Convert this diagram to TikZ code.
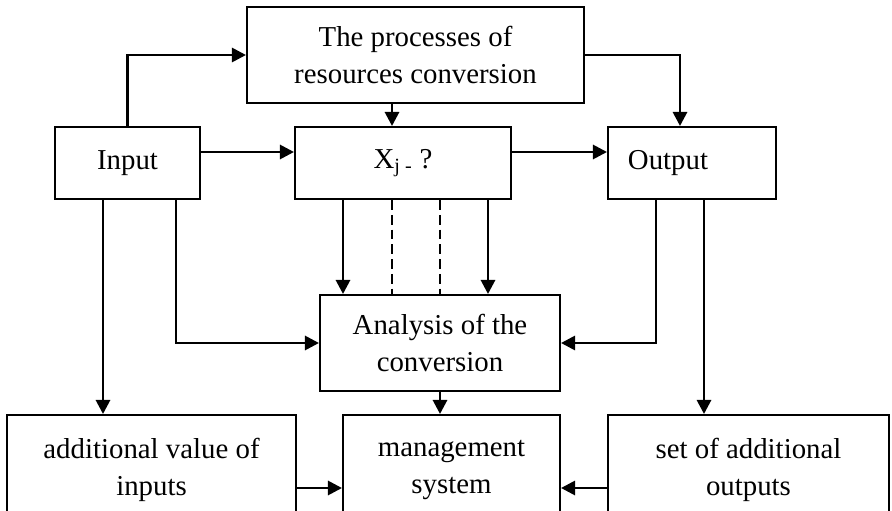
\documentclass[tikz,border=0pt]{standalone}
\usepackage{fontspec}
\setmainfont{Liberation Serif}
\usetikzlibrary{arrows.meta}

\tikzset{
  box/.style={draw, line width=1.4pt, inner sep=0pt, align=center,
    font=\fontsize{20.5}{26}\selectfont},
  arr/.style={line width=2pt, -{Triangle[length=10pt,width=10pt]}},
  dline/.style={line width=1.4pt, dash pattern=on 7pt off 3.5pt},
}

\begin{document}
\begin{tikzpicture}[x=0.025cm, y=-0.025cm]
    \useasboundingbox (0,0) rectangle (892,511);

    % Top row
    \node[box, minimum width=8.425cm, minimum height=2.4cm] (proc) at (415.5,55)
      {The processes of\\resources conversion};
    % Middle row
    \node[box, minimum width=3.625cm, minimum height=1.8cm] (input) at (127.5,163) {Input};
    \node[box, minimum width=5.4cm, minimum height=1.8cm] (xj) at (403,163) {X\textsubscript{j -} ?};
    \node[box, minimum width=4.2cm, minimum height=1.8cm, text width=3.2cm, inner xsep=0.5cm,
      align=left] (output) at (692,163) {Output};
    \node[box, minimum width=6cm, minimum height=2.4cm] (analysis) at (440,343)
      {Analysis of the\\conversion};
    % Bottom row (cut off at the lower edge)
    \node[box, minimum width=7.225cm, minimum height=2.75cm] (addval) at (151.5,470)
      {additional value of\\inputs};
    \node[box, minimum width=5.425cm, minimum height=2.75cm] (mgmt) at (451.5,470)
      {management\\system};
    \node[box, minimum width=7.025cm, minimum height=2.75cm] (addout) at (748.5,470)
      {set of additional\\outputs};

    % Connectors
    \draw[arr] (input.north) |- (proc.west);
    \draw[arr] (proc.east) -| (output.north -| 680,0);
    \draw[arr] (proc.south -| 392,0) -- (xj.north -| 392,0);
    \draw[arr] (input.east |- 0,152) -- (xj.west |- 0,152);
    \draw[arr] (xj.east |- 0,152) -- (output.west |- 0,152);
    \foreach \x in {343,488}
      \draw[arr] (xj.south -| \x,0) -- (analysis.north -| \x,0);
    \foreach \x in {392,440}
      \draw[dline] (xj.south -| \x,0) -- (analysis.north -| \x,0);
    \draw[arr] (input.south -| 103,0) -- (addval.north -| 103,0);
    \draw[arr] (input.south -| 176,0) |- (analysis.west);
    \draw[arr] (output.south -| 656,0) |- (analysis.east);
    \draw[arr] (output.south -| 704,0) -- (addout.north -| 704,0);
    \draw[arr] (analysis.south) -- (mgmt.north -| analysis.south);
    \draw[arr] (addval.east |- 0,488) -- (mgmt.west |- 0,488);
    \draw[arr] (addout.west |- 0,488) -- (mgmt.east |- 0,488);
  \end{tikzpicture}
\end{document}
